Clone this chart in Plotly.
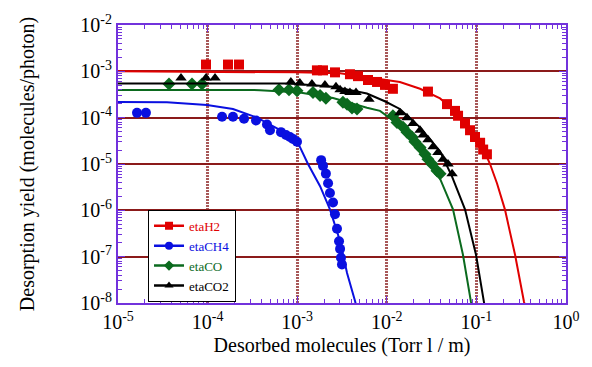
import plotly.graph_objects as go

# ---------------- data ----------------
h2_x = [9.6e-5, 1.69e-4, 2.24e-4, 1.66e-3, 1.94e-3, 2.64e-3, 3.88e-3, 4.77e-3, 6.17e-3, 7.78e-3,
        9.55e-3, 1.17e-2, 2.88e-2, 4.7e-2, 5.77e-2, 6.24e-2, 7.46e-2, 8.49e-2, 9.65e-2, 0.110, 0.119, 0.131]
h2_y = [1.4e-3, 1.4e-3, 1.4e-3, 1.05e-3, 1.05e-3, 9.5e-4, 8.66e-4, 7.87e-4, 6.5e-4, 5.9e-4,
        5.1e-4, 4.2e-4, 3.65e-4, 1.96e-4, 1.40e-4, 1.10e-4, 7.5e-5, 5.36e-5, 3.83e-5, 2.87e-5, 2.05e-5, 1.62e-5]

ch4_x = [1.63e-5, 2.05e-5, 1.45e-4, 1.92e-4, 2.55e-4, 3.47e-4, 4.60e-4, 4.97e-4, 6.59e-4, 7.5e-4,
         8.3e-4, 8.98e-4, 9.95e-4, 1.85e-3, 1.94e-3, 2.09e-3, 2.21e-3, 2.32e-3, 2.51e-3, 2.64e-3,
         2.78e-3, 2.93e-3, 3.01e-3, 3.08e-3, 3.16e-3]
ch4_y = [1.27e-4, 1.27e-4, 1.05e-4, 1.05e-4, 9.5e-5, 8.66e-5, 7.15e-5, 5.36e-5, 4.87e-5, 4.22e-5,
         3.83e-5, 3.48e-5, 3.01e-5, 1.21e-5, 9.1e-6, 6.19e-6, 3.83e-6, 2.37e-6, 1.47e-6, 8.26e-7,
         4.02e-7, 2.15e-7, 1.47e-7, 9.5e-8, 6.8e-8]

co_x = [3.71e-5, 6.7e-5, 8.66e-5, 6.26e-4, 8.1e-4, 9.95e-4, 1.50e-3, 1.80e-3, 2.09e-3, 3.24e-3,
        3.60e-3, 4.09e-3, 4.65e-3, 1.17e-2, 1.30e-2, 1.52e-2, 1.68e-2, 1.91e-2, 2.06e-2, 2.35e-2,
        2.67e-2, 2.88e-2, 3.19e-2, 3.63e-2, 3.93e-2]
co_y = [5.36e-4, 5.36e-4, 5.36e-4, 4.02e-4, 4.02e-4, 3.83e-4, 3.48e-4, 3.01e-4, 2.61e-4, 2.15e-4,
        1.96e-4, 1.62e-4, 1.54e-4, 1.10e-4, 7.87e-5, 6.19e-5, 4.87e-5, 3.83e-5, 3.01e-5, 2.26e-5,
        1.62e-5, 1.27e-5, 1.0e-5, 7.15e-6, 6.19e-6]

co2_x = [5.05e-5, 9.6e-5, 1.21e-4, 8.5e-4, 1.07e-3, 1.46e-3, 2.04e-3, 2.71e-3, 3.01e-3, 3.41e-3,
         3.88e-3, 4.53e-3, 6.32e-3, 1.40e-2, 1.68e-2, 1.96e-2, 2.35e-2, 2.54e-2, 2.88e-2, 3.28e-2,
         3.72e-2, 4.24e-2, 4.82e-2, 5.35e-2]
co2_y = [7.15e-4, 7.15e-4, 7.15e-4, 5.9e-4, 5.6e-4, 5.36e-4, 5.1e-4, 4.64e-4, 4.02e-4, 3.65e-4,
         3.48e-4, 3.48e-4, 2.49e-4, 1.27e-4, 1.0e-4, 7.5e-5, 5.36e-5, 4.22e-5, 3.32e-5, 2.37e-5,
         1.78e-5, 1.27e-5, 1.0e-5, 6.19e-6]

# fitted curves
h2_fit_x = [1e-5, 2.97e-4, 9.95e-4, 3.01e-3, 8.4e-3, 1.40e-2, 2.35e-2, 3.93e-2, 6.56e-2, 0.110,
            0.142, 0.170, 0.208, 0.270, 0.340, 0.358]
h2_fit_y = [1.0e-3, 9.8e-4, 9.5e-4, 9.1e-4, 6.8e-4, 5.9e-4, 4.2e-4, 2.6e-4, 1.1e-4, 3.0e-5,
            1.0e-5, 3.8e-6, 1.05e-6, 1.1e-7, 1.05e-8, 7.5e-9]

ch4_fit_x = [1e-5, 3.52e-5, 9.85e-5, 1.92e-4, 3.56e-4, 5.95e-4, 9.95e-4, 1.32e-3, 1.80e-3, 2.32e-3,
             3.01e-3, 3.60e-3, 4.42e-3, 4.65e-3]
ch4_fit_y = [2.19e-4, 2.15e-4, 1.87e-4, 1.54e-4, 1.0e-4, 5.9e-5, 3.16e-5, 1.0e-5, 3.32e-6, 1.05e-6,
             2.15e-7, 4.43e-8, 1.10e-8, 7.5e-9]

co_fit_x = [1e-5, 3.85e-4, 1.07e-3, 2.51e-3, 6.0e-3, 8.4e-3, 1.40e-2, 2.35e-2, 3.72e-2, 5.48e-2,
            7.08e-2, 8.7e-2, 9.2e-2]
co_fit_y = [3.97e-4, 3.93e-4, 3.48e-4, 2.65e-4, 1.64e-4, 1.40e-4, 6.8e-5, 1.87e-5, 6.19e-6, 1.05e-6,
            1.10e-7, 1.05e-8, 7.5e-9]

co2_fit_x = [1e-5, 8.3e-4, 2.51e-3, 6.0e-3, 9.5e-3, 1.40e-2, 2.35e-2, 3.93e-2, 5.35e-2, 7.46e-2,
             9.9e-2, 0.119, 0.125]
co2_fit_y = [5.45e-4, 5.45e-4, 4.64e-4, 3.32e-4, 2.26e-4, 1.54e-4, 6.19e-5, 1.87e-5, 5.36e-6, 1.05e-6,
             1.10e-7, 1.05e-8, 7.5e-9]

# tick labels
x_exps = [-5, -4, -3, -2, -1, 0]
y_exps = [-8, -7, -6, -5, -4, -3, -2]
x_tickvals = [10.0 ** e for e in x_exps]
x_ticktext = [f"10<sup>{e}</sup>" for e in x_exps]
y_tickvals = [10.0 ** e for e in y_exps]
y_ticktext = [f"10<sup>{e}</sup>" for e in y_exps]
x_minor = [k * 10.0 ** e for e in x_exps[:-1] for k in range(2, 10)]
y_minor = [k * 10.0 ** e for e in y_exps[:-1] for k in range(2, 10)]

series = [
    ("etaH2", h2_x, h2_y, h2_fit_x, h2_fit_y, "#e00000", "square", 10),
    ("etaCH4", ch4_x, ch4_y, ch4_fit_x, ch4_fit_y, "#0a10e0", "circle", 10),
    ("etaCO", co_x, co_y, co_fit_x, co_fit_y, "#0b6a1e", "diamond", 10),
    ("etaCO2", co2_x, co2_y, co2_fit_x, co2_fit_y, "#000000", "triangle-up", 10),
]

FONT = "Liberation Serif, Times New Roman, serif"
PURPLE = "#7232dc"

fig = go.Figure()
for name, x, y, fx, fy, col, sym, sz in series:
    fig.add_trace(go.Scatter(x=fx, y=fy, mode="lines", line=dict(color=col, width=2),
                             showlegend=False, hoverinfo="skip"))
    fig.add_trace(go.Scatter(x=x, y=y, mode="markers",
                             marker=dict(symbol=sym, size=sz, color=col),
                             showlegend=False))
    fig.add_trace(go.Scatter(x=[None], y=[None], mode="lines+markers",
                             name=f"<span style='color:{col}'>{name}</span>",
                             line=dict(color=col, width=2.5),
                             marker=dict(symbol=sym, size=8, color=col)))

fig.update_layout(
    width=592, height=367,
    margin=dict(l=118, r=26, t=16, b=64),
    paper_bgcolor="white", plot_bgcolor="white",
    font=dict(family=FONT, size=20, color="black"),
    legend=dict(x=0.067, y=0.335, xanchor="left", yanchor="top",
                bgcolor="white", bordercolor="black", borderwidth=1,
                font=dict(family=FONT, size=13), tracegroupgap=0,
                itemwidth=30),
)
fig.update_xaxes(
    type="log", range=[-5, 0], tickvals=x_tickvals, ticktext=x_ticktext,
    showline=True, linecolor=PURPLE, linewidth=2, mirror="allticks",
    ticks="inside", ticklen=7, tickcolor=PURPLE,
    showgrid=True, gridcolor="#a85858", gridwidth=3, griddash="2px,1px",
    minor=dict(tickvals=x_minor, ticks="inside", ticklen=4, tickcolor=PURPLE, showgrid=False),
    title=dict(text="Desorbed molecules (Torr l / m)", font=dict(size=20), standoff=6),
    zeroline=False,
)
fig.update_yaxes(
    type="log", range=[-8, -2], tickvals=y_tickvals, ticktext=y_ticktext,
    showline=True, linecolor=PURPLE, linewidth=2, mirror="allticks",
    ticks="inside", ticklen=7, tickcolor=PURPLE,
    showgrid=True, gridcolor="#8b1a1a", gridwidth=1.5,
    minor=dict(tickvals=y_minor, ticks="inside", ticklen=4, tickcolor=PURPLE, showgrid=False),
    title=dict(text="Desorption yield (molecules/photon)", font=dict(size=20), standoff=40),
    zeroline=False,
)

fig.write_html("out.html")
